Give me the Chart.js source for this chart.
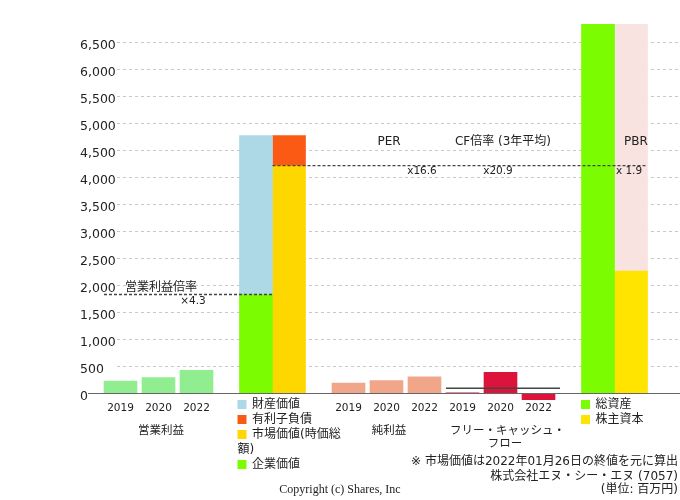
<!DOCTYPE html>
<html>
<head>
<meta charset="utf-8">
<script src="https://cdn.jsdelivr.net/npm/chart.js@4.4.1/dist/chart.umd.min.js"></script>
<style>
  html, body { margin: 0; padding: 0; background: #fff; }
  #wrap { width: 680px; height: 500px; }
</style>
</head>
<body>
<div id="wrap"><canvas id="myChart" width="680" height="500"></canvas></div>
<script>
// x slots, blank ones leave the gaps between groups
var slots = ['2019','2020','2022','','','','2019','2020','2022','2019','2020','2022','','',''];
var yTicks = [0,500,1000,1500,2000,2500,3000,3500,4000,4500,5000,5500,6000,6500];

var opProfit = [228, 289, 426];
var netIncome = [191, 233, 307];
var freeCF = [8, 389, -118];
var fcfAvg = 93;

var evNames = ['財産価値','有利子負債','市場価値(時価総額)','企業価値'];
var evValues = [2941, 556, 4215, 1830];

var bsNames = ['総資産','株主資本','負債'];
var bsValues = [6840, 2265, 4575];

var groupNames = ['営業利益','純利益','フリー・キャッシュ・フロー'];
var ratioNames = ['営業利益倍率','PER','CF倍率 (3年平均)','PBR'];
var ratioTexts = ['×4.3','x16.6','x20.9','x 1.9'];

var notes = ['※ 市場価値は2022年01月26日の終値を元に算出','株式会社エヌ・シー・エヌ (7057)','(単位: 百万円)'];
var copyright = 'Copyright (c) Shares, Inc';

var FONT = '"DejaVu Sans", "Noto Sans CJK JP", sans-serif';
var C_OP = '#90EE90', C_NI = '#F1A68A', C_FCF = '#DC143C';
var C_GREEN = '#7CFC00', C_BLUE = '#ADD8E6', C_GOLD = '#FFD700', C_ORANGE = '#FA5A14';
var C_YELLOW = '#FFE400', C_PINK = '#F9E3E1';

var OP = 0, EV = 4, NI = 6, FCF = 9, BS = 13;

function at(start, vals) {
    var a = slots.map(function() { return null; });
    vals.forEach(function(v, i) { a[start + i] = v; });
    return a;
}

Chart.defaults.font.family = FONT;

var deco = {
    id: 'deco',
    beforeDatasetsDraw: function(chart) {
        var ctx = chart.ctx, y = chart.scales.y;
        ctx.save();
        ctx.strokeStyle = '#c8c8c8';
        ctx.lineWidth = 1;
        ctx.setLineDash([3, 3]);
        yTicks.forEach(function(v) {
            if (v <= 0) return;
            var py = Math.round(y.getPixelForValue(v)) + 0.5;
            ctx.beginPath(); ctx.moveTo(117, py); ctx.lineTo(680, py); ctx.stroke();
        });
        ctx.restore();
    },
    afterDatasetsDraw: function(chart) {
        var ctx = chart.ctx, x = chart.scales.x, y = chart.scales.y;
        function xs(i) { return x.getPixelForValue(i); }
        function text(s, px, py, align, size, fam) {
            ctx.font = size + 'px ' + (fam || FONT);
            ctx.textAlign = align;
            ctx.textBaseline = 'middle';
            ctx.fillStyle = '#222';
            ctx.fillText(s, px, py);
        }
        ctx.save();
        // zero line
        var y0 = Math.round(y.getPixelForValue(0)) + 0.5;
        ctx.strokeStyle = '#666';
        ctx.lineWidth = 1;
        ctx.beginPath(); ctx.moveTo(88, y0); ctx.lineTo(680, y0); ctx.stroke();

        // fcf average
        var ya = y.getPixelForValue(fcfAvg);
        ctx.strokeStyle = '#444';
        ctx.lineWidth = 1.3;
        ctx.beginPath(); ctx.moveTo(xs(FCF) - 16.5, ya); ctx.lineTo(xs(FCF + 2) + 21.5, ya); ctx.stroke();

        // multiple lines
        ctx.setLineDash([3, 2]);
        ctx.lineWidth = 1.3;
        var yEv = y.getPixelForValue(evValues[3]);
        ctx.beginPath(); ctx.moveTo(xs(OP) - 16.5, yEv); ctx.lineTo(xs(EV), yEv); ctx.stroke();
        var yMc = y.getPixelForValue(evValues[2]);
        ctx.beginPath(); ctx.moveTo(xs(EV), yMc); ctx.lineTo(xs(BS) + 33, yMc); ctx.stroke();
        ctx.setLineDash([]);

        text(ratioNames[0], xs(OP + 1) + 2.5, yEv - 7, 'center', 12);
        text(ratioTexts[0], xs(OP + 2) - 3.5, yEv + 7, 'center', 10.5);
        text(ratioNames[1], xs(NI + 1) + 2.5, yMc - 24, 'center', 12);
        text(ratioTexts[1], xs(NI + 2) - 2.5, yMc + 6, 'center', 10.5);
        text(ratioNames[2], xs(FCF + 1) + 2.5, yMc - 24, 'center', 12);
        text(ratioTexts[2], xs(FCF + 1) - 2.5, yMc + 6, 'center', 10.5);
        text(ratioNames[3], xs(BS) + 21.5, yMc - 24, 'center', 12);
        text(ratioTexts[3], xs(BS) + 14.5, yMc + 6, 'center', 10.5);

        // group names
        text(groupNames[0], xs(OP + 1) + 2.5, 431.5, 'center', 11.5);
        text(groupNames[1], xs(NI + 1) + 2.5, 431.5, 'center', 11.5);
        text('フリー・キャッシュ・', xs(FCF + 1) + 7, 431.5, 'center', 11.5);
        text('フロー', xs(FCF + 1) + 4.5, 444, 'center', 11.5);

        // EV legend
        var lx = xs(EV) - 35;
        var evColors = [C_BLUE, C_ORANGE, C_GOLD, C_GREEN];
        var rows = [404.5, 419.5, 434.5, 464.5];
        evColors.forEach(function(c, i) {
            ctx.fillStyle = c;
            ctx.fillRect(lx, rows[i] - 4.5, 9, 9);
        });
        text(evNames[0], lx + 14.5, rows[0], 'left', 12);
        text(evNames[1], lx + 14.5, rows[1], 'left', 12);
        text('市場価値(時価総', lx + 14.5, rows[2], 'left', 12);
        text('額)', lx, 449.5, 'left', 12);
        text(evNames[3], lx + 14.5, rows[3], 'left', 12);

        // balance sheet legend
        var bx = xs(BS) - 33.5;
        ctx.fillStyle = C_GREEN; ctx.fillRect(bx, 400, 9, 9);
        ctx.fillStyle = C_YELLOW; ctx.fillRect(bx, 415, 9, 9);
        text(bsNames[0], bx + 14.5, 404.5, 'left', 12);
        text(bsNames[1], bx + 14.5, 419.5, 'left', 12);

        // footer
        text(notes[0], 678, 461.5, 'right', 12);
        text(notes[1], 678, 477, 'right', 12);
        text(notes[2], 678, 489.5, 'right', 12);
        text(copyright, 340, 490, 'center', 12, '"Liberation Serif", serif');
        ctx.restore();
    }
};

new Chart(document.getElementById('myChart'), {
    type: 'bar',
    data: {
        labels: slots,
        datasets: [
            { label: groupNames[0], data: at(OP, opProfit), backgroundColor: C_OP, stack: 'a' },
            { label: groupNames[1], data: at(NI, netIncome), backgroundColor: C_NI, stack: 'a' },
            { label: groupNames[2], data: at(FCF, freeCF), backgroundColor: C_FCF, stack: 'a' },
            { label: evNames[3], data: at(EV, [evValues[3]]), backgroundColor: C_GREEN, stack: 'L' },
            { label: evNames[0], data: at(EV, [evValues[0]]), backgroundColor: C_BLUE, stack: 'L' },
            { label: evNames[2], data: at(EV, [evValues[2]]), backgroundColor: C_GOLD, stack: 'R' },
            { label: evNames[1], data: at(EV, [evValues[1]]), backgroundColor: C_ORANGE, stack: 'R' },
            { label: bsNames[0], data: at(BS, [bsValues[0]]), backgroundColor: C_GREEN, stack: 'L' },
            { label: bsNames[1], data: at(BS, [bsValues[1]]), backgroundColor: C_YELLOW, stack: 'R' },
            { label: bsNames[2], data: at(BS, [bsValues[2]]), backgroundColor: C_PINK, stack: 'R' }
        ]
    },
    options: {
        responsive: false,
        animation: false,
        layout: { padding: { left: 80, right: 8.5, top: 24, bottom: 0 } },
        datasets: { bar: { skipNull: true, barThickness: 33, borderWidth: 0 } },
        plugins: { legend: { display: false }, tooltip: { enabled: false } },
        scales: {
            x: {
                grid: { display: false, drawTicks: false },
                border: { display: false },
                ticks: { color: '#222', font: { size: 10.5 }, padding: 2, autoSkip: false, maxRotation: 0 },
                afterFit: function(s) { s.height = 99.7; }
            },
            y: {
                min: -130,
                max: bsValues[0],
                grid: { display: false, drawTicks: false },
                border: { display: false },
                ticks: {
                    color: '#222', font: { size: 12.5 }, mirror: true, crossAlign: 'near', labelOffset: 3, padding: -21.5,
                    callback: function(v) { return v.toLocaleString('en-US'); }
                },
                afterBuildTicks: function(s) { s.ticks = yTicks.map(function(v) { return { value: v }; }); },
                afterFit: function(s) { s.width = 21.5; }
            }
        }
    },
    plugins: [deco]
});
</script>
</body>
</html>
